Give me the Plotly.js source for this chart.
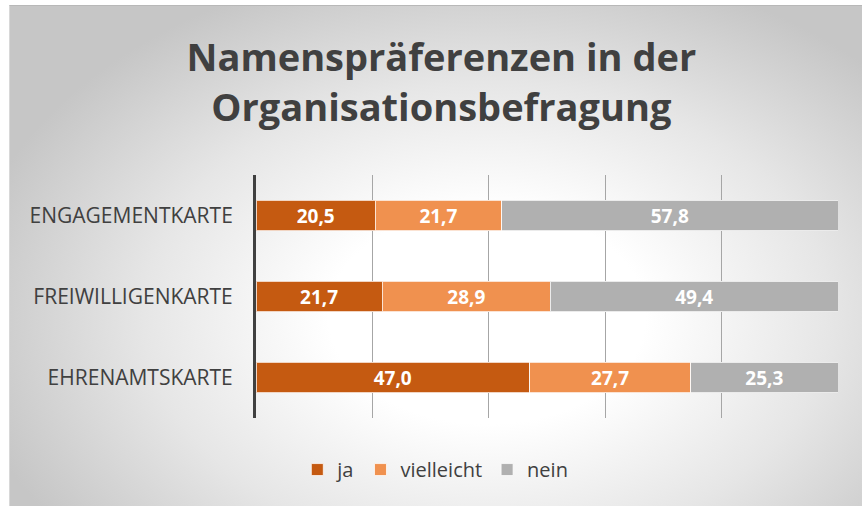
<!DOCTYPE html>
<html>
<head>
<meta charset="utf-8">
<script src="https://cdn.plot.ly/plotly-3.0.1.min.js"></script>
<style>
  html, body { margin: 0; padding: 0; background: #ffffff; }
  #wrap { position: relative; width: 862px; height: 506px; overflow: hidden; }
  #bg { position: absolute; left: 9px; top: 5px; width: 853px; height: 501px;
        background: radial-gradient(ellipse 62% 72% at 56% 62%, #ffffff 0%, #ffffff 30%, #e6e6e6 65%, #c6c6c6 100%);
        border-top: 1px solid #b8b8b8; border-left: 1px solid #d8d8d8; box-sizing: border-box; }
  #chart { position: absolute; left: 0; top: 0; width: 862px; height: 506px; }
</style>
</head>
<body>
<div id="wrap">
  <div id="bg"></div>
  <div id="chart"></div>
</div>
<script>
const categories = ["ENGAGEMENTKARTE", "FREIWILLIGENKARTE", "EHRENAMTSKARTE"];
const ja = [20.5, 21.7, 47.0];
const vielleicht = [21.7, 28.9, 27.7];
const nein = [57.8, 49.4, 25.3];
const seriesNames = ["ja", "vielleicht", "nein"];
const titleText = "Namenspräferenzen in der<br>Organisationsbefragung";

const colors = ["#C55A11", "#F0914F", "#B0B0B0"];
const seriesValues = [ja, vielleicht, nein];

const traces = seriesValues.map((vals, i) => ({
  type: "bar",
  orientation: "h",
  name: seriesNames[i],
  y: categories,
  x: vals,
  marker: { color: colors[i], line: { color: "rgba(255,255,255,0.75)", width: 1 } },
  texttemplate: "%{x:.1f}",
  textposition: "inside",
  insidetextanchor: "middle",
  textangle: 0,
  constraintext: "none",
  textfont: { family: "Open Sans", size: 19, color: "#ffffff", weight: "bold" },
  hoverinfo: "none"
}));

const layout = {
  width: 862,
  height: 506,
  paper_bgcolor: "rgba(0,0,0,0)",
  plot_bgcolor: "rgba(0,0,0,0)",
  separators: ", ",
  barmode: "stack",
  bargap: 0.62,
  margin: { l: 256, r: 24, t: 175, b: 88, pad: 0 },
  title: {
    text: titleText,
    font: { family: "Open Sans", size: 38, color: "#404040", weight: "bold" },
    xref: "container", x: 0.512, xanchor: "center",
    yref: "container", y: 0.859, yanchor: "top"
  },
  xaxis: {
    range: [0, 100],
    showticklabels: false,
    showgrid: true,
    gridcolor: "#a6a6a6",
    gridwidth: 1,
    dtick: 20,
    zeroline: false,
    showline: false,
    fixedrange: true
  },
  yaxis: {
    autorange: "reversed",
    showline: true,
    linecolor: "#404040",
    linewidth: 3,
    ticks: "outside",
    ticklen: 16,
    tickcolor: "rgba(0,0,0,0)",
    tickfont: { family: "Open Sans", size: 21, color: "#404040" },
    showgrid: false,
    fixedrange: true
  },
  showlegend: true,
  legend: {
    orientation: "h",
    xref: "container", x: 0.505, xanchor: "center",
    yref: "container", y: 0.072, yanchor: "middle",
    font: { family: "Open Sans", size: 20, color: "#404040" },
    traceorder: "normal",
    itemwidth: 30,
    bgcolor: "rgba(0,0,0,0)"
  }
};

Plotly.newPlot("chart", traces, layout, { displayModeBar: false, staticPlot: true });
</script>
</body>
</html>
